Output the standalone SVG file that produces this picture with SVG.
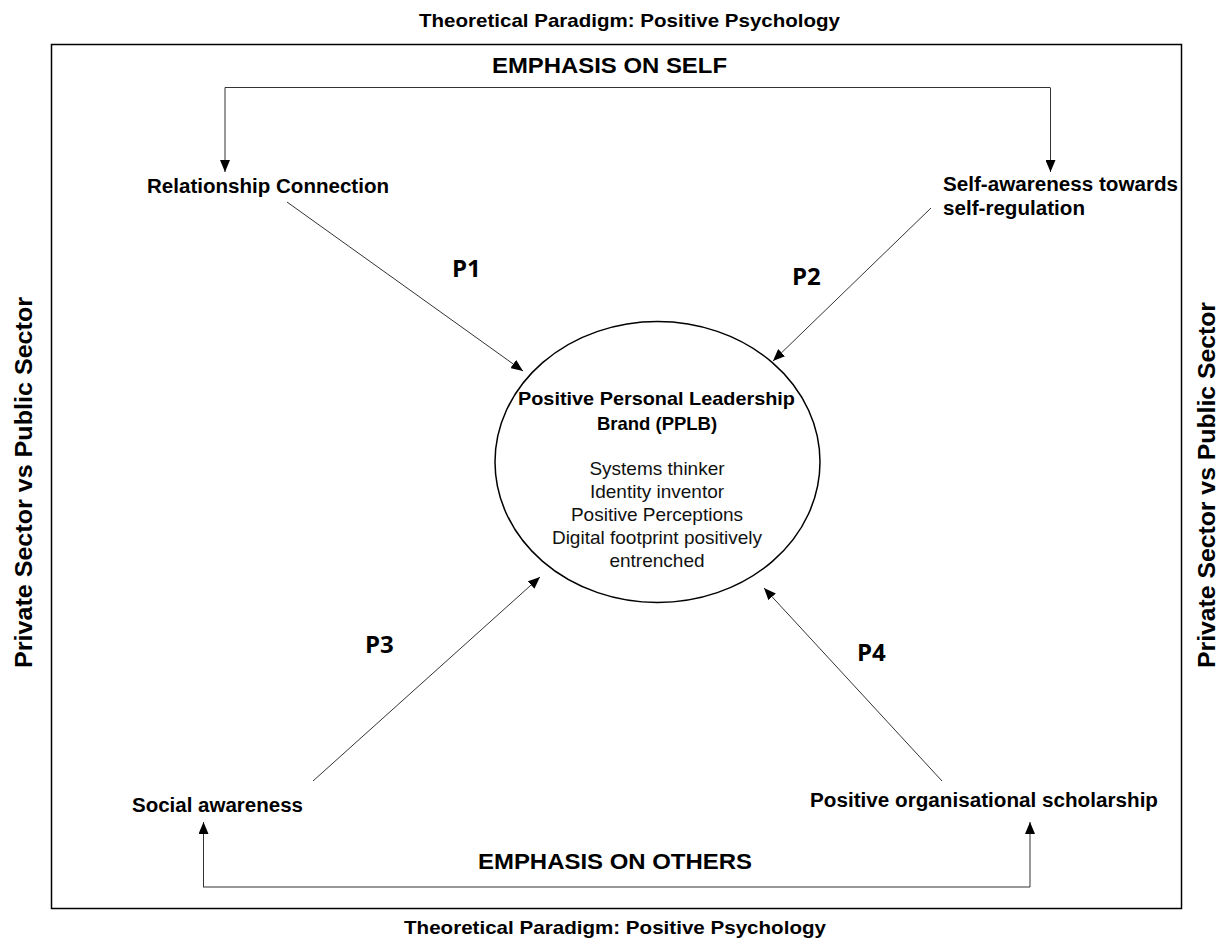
<svg xmlns="http://www.w3.org/2000/svg" width="1225" height="939" viewBox="0 0 1225 939">
<defs>
<marker id="ah" viewBox="0 0 12 10" refX="12" refY="5" markerWidth="12" markerHeight="10" markerUnits="userSpaceOnUse" orient="auto">
<path d="M0,0 L12,5 L0,10 Z" fill="#000"/>
</marker>
<style>
.b{font-family:"Liberation Sans",Arial,sans-serif;font-weight:bold;fill:#000}
.n{font-family:"Liberation Sans",Arial,sans-serif;fill:#111}
.p{font-family:"Open Sans","Liberation Sans",sans-serif;font-weight:bold;font-size:24px;fill:#000}
.c{fill:none;stroke:#333;stroke-width:1}
</style>
</defs>
<rect width="1225" height="939" fill="#fff"/>
<g id="frame">
<rect x="51.5" y="44.5" width="1130" height="864" fill="none" stroke="#000" stroke-width="1.5"/>
<text class="b" x="419" y="27" font-size="19" textLength="421" lengthAdjust="spacingAndGlyphs">Theoretical Paradigm:  Positive Psychology</text>
<text class="b" x="404" y="934" font-size="19" textLength="422" lengthAdjust="spacingAndGlyphs">Theoretical Paradigm:  Positive Psychology</text>
<text class="b" x="492" y="73" font-size="22" textLength="235" lengthAdjust="spacingAndGlyphs">EMPHASIS  ON SELF</text>
<text class="b" x="478" y="869" font-size="22" textLength="274" lengthAdjust="spacingAndGlyphs">EMPHASIS  ON OTHERS</text>
<text class="b" transform="translate(32,668) rotate(-90)" font-size="23" textLength="371" lengthAdjust="spacingAndGlyphs">Private Sector vs Public Sector</text>
<text class="b" transform="translate(1215,668) rotate(-90)" font-size="23" textLength="366" lengthAdjust="spacingAndGlyphs">Private Sector vs Public Sector</text>
</g>
<g id="connectors">
<polyline class="c" points="225,87.5 1050,87.5" />
<line class="c" x1="225" y1="87.5" x2="225" y2="172" marker-end="url(#ah)"/>
<line class="c" x1="1050.5" y1="87.5" x2="1050.5" y2="172" marker-end="url(#ah)"/>
<polyline class="c" points="203,887 1030,887"/>
<line class="c" x1="203.5" y1="887" x2="203.5" y2="822" marker-end="url(#ah)"/>
<line class="c" x1="1030" y1="887" x2="1030" y2="822" marker-end="url(#ah)"/>
<line class="c" x1="287" y1="202" x2="523" y2="371" marker-end="url(#ah)"/>
<line class="c" x1="931" y1="208" x2="773" y2="361" marker-end="url(#ah)"/>
<line class="c" x1="313" y1="781" x2="540" y2="577" marker-end="url(#ah)"/>
<line class="c" x1="942" y1="781" x2="764" y2="588" marker-end="url(#ah)"/>
<text class="p" x="452" y="277">P1</text>
<text class="p" x="792" y="285">P2</text>
<text class="p" x="365" y="653">P3</text>
<text class="p" x="857" y="661">P4</text>
</g>
<g id="relationship">
<text class="b" x="147" y="193" font-size="19.5" textLength="242" lengthAdjust="spacingAndGlyphs">Relationship Connection</text>
</g>
<g id="selfawareness">
<text class="b" x="943" y="191" font-size="19.5" textLength="235" lengthAdjust="spacingAndGlyphs">Self-awareness towards</text>
<text class="b" x="943" y="215" font-size="19.5" textLength="142" lengthAdjust="spacingAndGlyphs">self-regulation</text>
</g>
<g id="social">
<text class="b" x="132" y="812" font-size="19.5" textLength="171" lengthAdjust="spacingAndGlyphs">Social awareness</text>
</g>
<g id="pos">
<text class="b" x="810" y="807" font-size="19.5" textLength="348" lengthAdjust="spacingAndGlyphs">Positive organisational scholarship</text>
</g>
<g id="pplb">
<ellipse cx="657.5" cy="462" rx="162.5" ry="140.5" fill="none" stroke="#000" stroke-width="1.5"/>
<text class="b" x="518" y="405" font-size="18.5" textLength="277" lengthAdjust="spacingAndGlyphs">Positive Personal Leadership</text>
<text class="b" x="657" y="430" font-size="18.5" text-anchor="middle">Brand (PPLB)</text>
<g class="n" font-size="19" text-anchor="middle">
<text x="657" y="475">Systems thinker</text>
<text x="657" y="498">Identity inventor</text>
<text x="657" y="521">Positive Perceptions</text>
<text x="657" y="544">Digital footprint positively</text>
<text x="657" y="567">entrenched</text>
</g>
</g>
</svg>
